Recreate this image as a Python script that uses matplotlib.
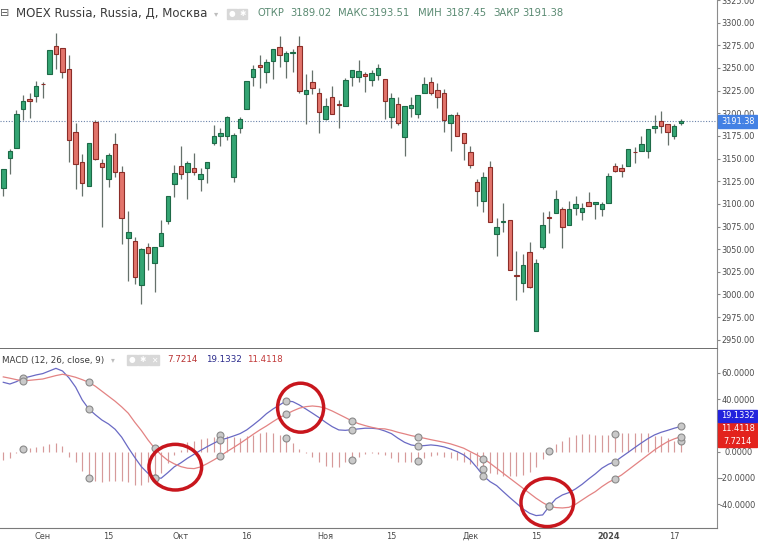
import numpy as np
import matplotlib
matplotlib.use("Agg")
import matplotlib.pyplot as plt
from matplotlib.patches import Rectangle, Ellipse

plt.rcParams["axes.unicode_minus"] = False

# --- дневные свечи MOEX Russia ---
opens = [3117.2, 3151.0, 3162.1, 3205.1, 3215.4, 3219.1, 3232.6, 3243.4, 3274.6, 3271.7,
         3248.9, 3179.0, 3145.9, 3119.8, 3190.0, 3144.8, 3127.1, 3166.1, 3135.6, 3062.0,
         3059.1, 3010.5, 3052.1, 3034.4, 3053.9, 3081.1, 3121.6, 3142.2, 3134.8, 3139.3,
         3127.1, 3139.3, 3166.9, 3175.3, 3175.3, 3130.1, 3183.4, 3205.1, 3239.7, 3253.7,
         3246.0, 3258.1, 3272.8, 3257.4, 3266.9, 3274.3, 3220.9, 3234.2, 3222.8, 3193.7,
         3218.4, 3209.6, 3208.1, 3240.4, 3239.7, 3243.0, 3236.8, 3242.3, 3237.5, 3195.6,
         3210.3, 3173.5, 3206.2, 3199.2, 3222.8, 3234.2, 3225.7, 3222.0, 3189.7, 3198.1,
         3177.9, 3157.7, 3123.8, 3103.6, 3140.4, 3066.4, 3080.4, 3082.2, 3021.0, 3013.1,
         3046.6, 2960.1, 3052.8, 3084.8, 3090.3, 3094.4, 3076.7, 3095.9, 3090.7, 3101.7,
         3099.9, 3094.0, 3100.6, 3141.8, 3140.0, 3141.8, 3157.2, 3158.8, 3158.8, 3183.4,
         3191.9, 3188.2, 3175.3, 3189.02]
highs = [3138.2, 3160.2, 3203.6, 3220.2, 3222.0, 3235.7, 3234.6, 3270.2, 3289.0, 3271.7,
         3264.4, 3189.7, 3154.7, 3166.9, 3192.6, 3149.2, 3156.6, 3178.6, 3142.2, 3092.2,
         3063.8, 3051.7, 3056.5, 3052.1, 3082.2, 3108.7, 3143.0, 3163.9, 3147.7, 3155.8,
         3139.3, 3146.6, 3187.1, 3183.4, 3197.4, 3178.6, 3196.3, 3236.0, 3253.3, 3264.4,
         3259.6, 3270.6, 3285.3, 3269.1, 3270.9, 3285.3, 3243.0, 3247.8, 3227.6, 3216.5,
         3230.1, 3214.7, 3238.6, 3247.8, 3258.8, 3246.0, 3247.8, 3254.1, 3237.5, 3222.8,
         3217.6, 3208.1, 3218.4, 3220.2, 3240.4, 3240.4, 3233.1, 3226.5, 3199.2, 3201.8,
         3177.9, 3164.3, 3127.5, 3134.8, 3147.7, 3084.8, 3100.6, 3082.2, 3048.0, 3044.3,
         3058.3, 3038.8, 3091.4, 3092.2, 3115.3, 3096.2, 3103.6, 3109.1, 3100.6, 3113.5,
         3102.5, 3102.5, 3133.7, 3145.5, 3143.7, 3160.2, 3163.2, 3174.9, 3182.3, 3198.1,
         3202.9, 3188.2, 3188.2, 3193.51]
lows = [3109.1, 3133.0, 3162.1, 3192.6, 3194.4, 3212.8, 3216.5, 3243.4, 3248.5, 3238.6,
        3146.6, 3116.1, 3108.7, 3119.8, 3148.5, 3074.1, 3118.3, 3129.3, 3055.7, 3015.3,
        3011.6, 2989.5, 3027.1, 3002.4, 3053.9, 3077.8, 3108.0, 3127.1, 3105.0, 3131.9,
        3114.6, 3122.7, 3165.0, 3163.9, 3170.5, 3123.8, 3177.9, 3205.1, 3230.1, 3227.6,
        3233.8, 3237.9, 3250.7, 3239.3, 3245.2, 3222.8, 3188.2, 3221.3, 3178.6, 3192.6,
        3198.9, 3183.4, 3208.1, 3230.1, 3234.2, 3223.9, 3230.5, 3236.8, 3193.3, 3184.1,
        3187.1, 3153.3, 3195.6, 3194.4, 3222.8, 3220.2, 3205.5, 3179.7, 3158.8, 3175.0,
        3148.5, 3139.3, 3098.1, 3091.4, 3080.4, 3042.5, 3068.6, 3027.1, 2993.9, 3003.1,
        3006.8, 2960.1, 3049.9, 3067.5, 3089.6, 3051.0, 3076.7, 3087.8, 3082.2, 3098.1,
        3083.3, 3087.0, 3100.6, 3135.6, 3130.1, 3141.8, 3144.8, 3158.8, 3150.3, 3177.9,
        3177.9, 3165.0, 3171.6, 3187.45]
closes = [3138.2, 3158.4, 3199.6, 3213.2, 3213.2, 3229.8, 3232.0, 3270.2, 3265.5, 3246.0,
          3170.5, 3143.7, 3122.7, 3166.9, 3149.2, 3140.4, 3154.0, 3135.6, 3084.8, 3069.4,
          3019.7, 3049.9, 3046.2, 3052.1, 3068.3, 3108.7, 3134.5, 3133.0, 3144.8, 3134.8,
          3132.6, 3145.9, 3175.0, 3178.6, 3195.6, 3176.1, 3193.3, 3236.0, 3248.5, 3250.7,
          3256.3, 3270.6, 3264.7, 3266.9, 3267.5, 3224.6, 3225.7, 3227.6, 3201.8, 3208.1,
          3198.9, 3209.2, 3236.8, 3247.8, 3246.7, 3241.2, 3244.1, 3249.6, 3213.6, 3216.5,
          3189.7, 3208.1, 3209.2, 3220.2, 3232.3, 3222.0, 3218.4, 3192.6, 3198.1, 3175.0,
          3166.9, 3142.9, 3114.6, 3130.1, 3080.4, 3074.1, 3080.6, 3027.1, 3020.6, 3032.6,
          3008.7, 3034.4, 3076.7, 3084.4, 3105.0, 3074.1, 3094.0, 3099.9, 3095.9, 3098.1,
          3102.5, 3099.9, 3131.2, 3136.7, 3136.7, 3160.2, 3156.9, 3166.1, 3182.3, 3186.4,
          3186.0, 3179.7, 3186.4, 3191.38]

# --- MACD (12, 26, close, 9) ---
macd = [52.7, 51.4, 53.2, 55.8, 57.0, 58.3, 59.3, 61.3, 63.3, 61.3,
        56.0, 49.0, 39.3, 32.4, 28.0, 24.0, 21.0, 17.0, 11.0, 3.0,
        -4.5, -11.5, -16.5, -19.7, -20.2, -16.0, -11.5, -8.5, -5.0, -2.0,
        1.0, 3.8, 6.4, 8.9, 10.2, 11.9, 13.7, 16.5, 20.3, 24.3,
        28.8, 32.4, 35.5, 38.5, 38.0, 35.5, 32.4, 29.2, 25.9, 22.3,
        19.0, 16.5, 16.2, 16.7, 17.3, 17.8, 17.8, 17.3, 15.7, 13.7,
        10.2, 7.1, 5.1, 4.3, 4.6, 5.1, 4.6, 3.6, 2.0, 0.0,
        -2.5, -6.3, -12.1, -18.5, -22.8, -25.8, -30.4, -34.9, -39.2, -43.5,
        -46.8, -48.6, -48.1, -41.5, -35.9, -32.9, -31.1, -28.3, -24.8, -20.7,
        -16.9, -12.6, -9.6, -7.6, -4.0, -0.5, 3.1, 6.6, 9.9, 12.7,
        14.7, 16.2, 17.8, 19.1332]
signal = [56.8, 55.8, 54.7, 53.7, 54.2, 54.7, 55.2, 56.5, 57.8, 58.8,
          57.8, 56.5, 54.7, 52.7, 49.7, 45.9, 42.1, 38.3, 34.0, 29.2,
          22.3, 16.0, 8.9, 2.6, -2.5, -6.6, -9.3, -11.4, -12.6, -12.9,
          -11.6, -9.1, -6.3, -3.3, 0.0, 3.1, 6.3, 9.7, 13.2, 16.5,
          19.5, 22.8, 25.9, 28.4, 30.9, 33.0, 34.2, 34.7, 34.2, 33.0,
          30.9, 28.4, 25.9, 23.3, 21.3, 19.8, 18.5, 17.5, 17.3, 16.2,
          14.7, 13.5, 12.2, 11.2, 10.2, 9.1, 8.1, 7.1, 5.9, 4.3,
          2.6, 0.0, -2.5, -5.3, -8.8, -12.6, -16.4, -20.2, -24.0, -27.8,
          -31.6, -35.4, -38.7, -41.5, -42.5, -42.8, -42.3, -40.0, -36.7, -33.4,
          -30.4, -26.6, -23.3, -20.7, -17.7, -13.9, -10.1, -6.3, -2.5, 1.3,
          4.6, 7.6, 9.7, 11.4118]
hist = [-6.0, -5.0, -1.0, 2.0, 2.5, 3.8, 4.3, 6.0, 6.3, 4.5,
        -3.8, -7.6, -15.0, -20.0, -22.0, -23.0, -22.0, -22.0, -22.0, -23.0,
        -25.0, -25.0, -23.0, -20.0, -16.5, -9.0, -2.5, 1.0, 7.6, 8.0,
        9.6, 10.6, 11.4, 12.7, 12.0, 11.4, 10.0, 12.0, 13.0, 14.0,
        14.7, 14.0, 12.7, 10.0, 6.3, 2.0, -1.3, -3.8, -8.0, -10.6,
        -12.0, -11.4, -8.0, -6.0, -3.8, -2.0, -1.3, -1.5, -2.5, -4.5,
        -7.6, -8.0, -8.0, -7.0, -4.5, -3.0, -2.5, -3.8, -5.0, -6.3,
        -8.0, -9.6, -10.6, -13.0, -16.5, -17.0, -18.2, -18.5, -18.2, -17.7,
        -15.7, -12.0, -5.6, 0.3, 5.6, 8.0, 11.4, 12.7, 13.2, 13.2,
        12.7, 12.7, 13.0, 13.2, 14.0, 14.0, 14.0, 14.0, 14.0, 12.0,
        12.0, 10.0, 8.0, 7.7214]

date_ticks = [6, 16, 27, 37, 49, 59, 71, 81, 92, 102]
date_labels = ["Сен", "15", "Окт", "16", "Ноя", "15", "Дек", "15", "2024", "17"]

last_price = 3191.38
W, H = 758, 541


def fx(x):
    return x / W


def fy(y):
    return 1 - y / H


fig = plt.figure(figsize=(W / 100, H / 100), dpi=100)
ax1 = fig.add_axes([0, fy(349), fx(717), 349 / H])
ax2 = fig.add_axes([0, fy(527.7), fx(717), (527.7 - 349) / H])

x = np.arange(len(closes))
o, h, l, c = map(np.array, (opens, highs, lows, closes))
up = c >= o

# свечи
ax1.vlines(x, l, h, color="#66716b", lw=0.9, zorder=2)
body = np.maximum(np.abs(c - o), 0.7)
ax1.bar(x[up], body[up], bottom=np.minimum(o, c)[up], width=0.68,
        color="#34a573", edgecolor="#1d6a47", linewidth=0.8, zorder=3)
ax1.bar(x[~up], body[~up], bottom=np.minimum(o, c)[~up], width=0.68,
        color="#e2746b", edgecolor="#8c2d28", linewidth=0.8, zorder=3)
ax1.axhline(last_price, color="#6b83aa", lw=0.8, ls=(0, (1, 1.5)), zorder=1)

ax1.set_xlim(-0.5, 108.5)
ax1.set_ylim(2939.8, 3325.05)
ax1.set_yticks(np.arange(2950, 3326, 25))
ax1.yaxis.set_major_formatter(matplotlib.ticker.FormatStrFormatter("%.2f"))
ax1.set_xticks([])

# MACD
ax2.vlines(x, 0, hist, color="#d69a9a", lw=0.85, zorder=2)
ax2.plot(x, macd, color="#6a6ac4", lw=0.9, zorder=3)
ax2.plot(x, signal, color="#e38383", lw=0.9, zorder=3)
mk = np.arange(3, len(x), 10)
for s in (hist, macd, signal):
    ax2.plot(mk, np.array(s)[mk], "o", ms=5, mfc="#c9c9c9", mec="#8a8a8a",
             mew=0.8, zorder=5)

for cx, cy, w, hh in [(26.15, -11.8, 8.0, 34.7), (45.2, 33.4, 7.0, 37.2),
                      (82.7, -38.6, 8.0, 36.7)]:
    ax2.add_patch(Ellipse((cx, cy), w, hh, fill=False, ec="#c8161d", lw=2.5,
                          zorder=6, clip_on=False))

ax2.set_xlim(-0.5, 108.5)
ax2.set_ylim(-57.8, 78.0)
ax2.set_yticks([-40, -20, 0, 20, 40, 60])
ax2.yaxis.set_major_formatter(matplotlib.ticker.FormatStrFormatter("%.4f"))
ax2.set_xticks(date_ticks)
ax2.set_xticklabels(date_labels)
ax2.get_xticklabels()[8].set_fontweight("bold")

for ax in (ax1, ax2):
    ax.set_facecolor("white")
    ax.yaxis.tick_right()
    # подписи шкалы центрируются примерно на x=738 px
    ax.tick_params(axis="y", direction="out", length=2.5, pad=12.7, labelsize=5.9,
                   color="#888888", labelcolor="#4a4a4a")
    for lab in ax.get_yticklabels():
        lab.set_horizontalalignment("center")
    ax.tick_params(axis="x", length=0, pad=3, labelsize=5.9, labelcolor="#4a4a4a")
    for side in ("top", "left"):
        ax.spines[side].set_visible(False)
    ax.spines["right"].set_color("#8c8c8c")
    ax.spines["bottom"].set_color("#7a7a7a")
ax1.spines["bottom"].set_linewidth(1.4)
ax1.spines["bottom"].set_color("#6e6e6e")


def tag(ax, value, text, color, dy=0.0, hgt=12):
    ypx = H - ax.transData.transform((0, value))[1] - dy
    fig.patches.append(Rectangle((fx(718), fy(ypx + hgt / 2)), fx(39), hgt / H,
                                 transform=fig.transFigure, color=color, zorder=10))
    fig.text(fx(738), fy(ypx), text, color="white", fontsize=5.9, va="center",
             ha="center", zorder=11)


fig.canvas.draw()
tag(ax1, last_price, "3191.38", "#4381e4", hgt=13)
tag(ax2, hist[-1], "7.7214", "#e3231d")
tag(ax2, signal[-1], "11.4118", "#e3231d", dy=441.5 - 429 - (441.5 - 436.7))
tag(ax2, macd[-1], "19.1332", "#2222dd", dy=441.5 - 416 - (441.5 - 426.5))

# заголовки
def icon_box(x0, y0, glyph):
    fig.patches.append(Rectangle((fx(x0), fy(y0 + 9.5)), fx(9.5), 9.5 / H,
                                 transform=fig.transFigure, color="#d8d8d8"))
    fig.text(fx(x0 + 4.75), fy(y0 + 4.9), glyph, color="white", fontsize=5.5,
             ha="center", va="center")


fig.text(fx(0), fy(13.5), "⊟", fontsize=8, color="#5a5a5a", va="center")
fig.text(fx(16), fy(13.5), "MOEX Russia, Russia, Д, Москва", fontsize=8.5,
         color="#3b3b3b", va="center")
fig.text(fx(214), fy(13.5), "▾", fontsize=6, color="#bdbdbd", va="center")
icon_box(227, 9, "●")
icon_box(237.5, 9, "✱")
hdr_col = "#5a8a72"
for xp, s in [(258, "ОТКР"), (290, "3189.02"), (338, "МАКС"), (368, "3193.51"),
              (418, "МИН"), (445, "3187.45"), (493, "ЗАКР"), (522, "3191.38")]:
    fig.text(fx(xp), fy(13.5), s, fontsize=7.2, color=hdr_col, va="center")

fig.text(fx(2), fy(360), "MACD (12, 26, close, 9)", fontsize=6.3, color="#3b3b3b",
         va="center")
fig.text(fx(111), fy(360), "▾", fontsize=5.5, color="#bdbdbd", va="center")
icon_box(127, 355, "●")
icon_box(138, 355, "✱")
icon_box(149, 355, "✕")
fig.text(fx(167), fy(360), "7.7214", fontsize=6.3, color="#b83232", va="center")
fig.text(fx(206), fy(360), "19.1332", fontsize=6.3, color="#2b2b8c", va="center")
fig.text(fx(247), fy(360), "11.4118", fontsize=6.3, color="#c23a3a", va="center")

fig.savefig("out.png", dpi=100, facecolor="white")
